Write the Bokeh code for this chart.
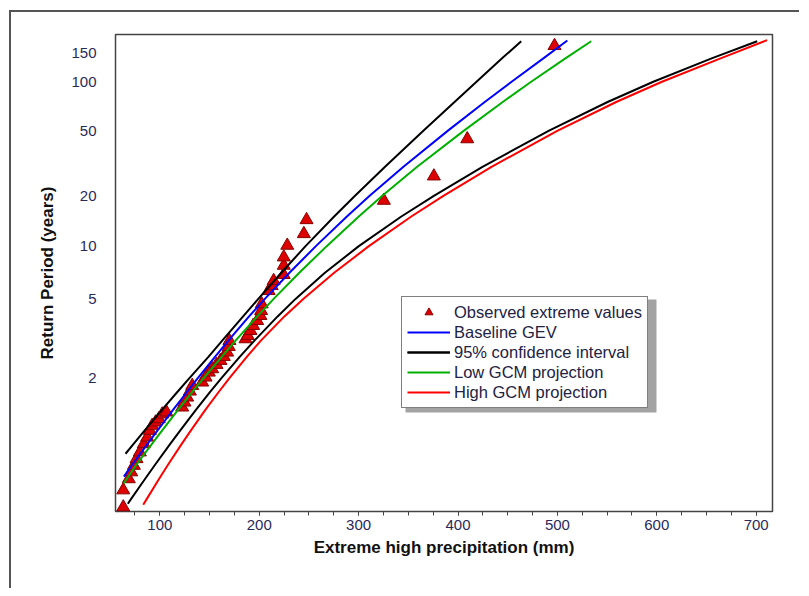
import math
from bokeh.plotting import figure
from bokeh.models import (Range1d, FixedTicker, SingleIntervalTicker, CustomJSTickFormatter,
                          Legend, LegendItem, BoxAnnotation)
from bokeh.embed import file_html
from bokeh.resources import INLINE

# ---------------- data (precipitation in mm, return period in years) ----------------
obs_precip = [63.2, 63.2, 68.8, 71.2, 73.9, 76.6, 79.9, 83.9, 87.3, 90.0,
              92.3, 95.7, 99.0, 102.4, 106.7, 122.5, 124.8, 127.5, 130.2, 132.6,
              142.6, 146.0, 149.3, 152.7, 157.0, 161.0, 164.4, 167.7, 169.4, 170.0,
              186.2, 188.5, 191.2, 193.9, 197.9, 201.2, 201.9, 202.5, 209.5, 212.5,
              214.5, 224.6, 224.7, 224.7, 228.2, 244.9, 247.6, 325.4, 375.7, 409.3,
              497.1]
obs_period = [1.0125, 1.033, 1.056, 1.075, 1.097, 1.124, 1.156, 1.203, 1.247, 1.298,
              1.341, 1.372, 1.404, 1.454, 1.476, 1.535, 1.599, 1.669, 1.761, 1.856,
              1.917, 2.013, 2.116, 2.190, 2.292, 2.392, 2.498, 2.620, 2.792, 2.990,
              3.05, 3.171, 3.363, 3.571, 3.794, 4.034, 4.292, 4.666, 5.53, 5.90,
              6.30, 6.82, 7.71, 8.62, 10.09, 11.82, 14.32, 18.72, 26.3, 44.4,
              166.9]

baseline_period = [1.062, 1.1, 1.2, 1.3, 1.5, 1.75, 2, 2.5, 3, 4, 5, 7, 10, 15, 20, 30,
                   50, 75, 100, 140, 180]
baseline_precip = [63.8, 72.2, 87.2, 97.7, 113.1, 127.3, 138.4, 155.7, 169.1, 189.8,
                   205.9, 230.4, 257.0, 288.2, 311.1, 345.1, 389.9, 426.9, 453.9,
                   486.2, 510.0]

ci_upper_period = [1.148, 1.2, 1.3, 1.5, 1.75, 2, 2.5, 3, 4, 5, 7, 10, 15, 20, 30, 50,
                   75, 100, 140, 178]
ci_upper_precip = [65.5, 73.2, 84.8, 101.9, 117.6, 130.0, 149.1, 163.0, 183.8, 199.3,
                   222.2, 246.6, 275.4, 296.4, 326.6, 365.4, 396.5, 418.6, 444.6, 463.6]

ci_lower_period = [1.0154, 1.02, 1.05, 1.1, 1.2, 1.3, 1.5, 1.75, 2, 2.5, 3, 4, 5, 7, 10,
                   15, 20, 30, 50, 75, 100, 140, 178]
ci_lower_precip = [67.8, 70.8, 83.3, 95.2, 110.1, 120.6, 136.1, 150.6, 162.2, 180.6,
                   195.4, 218.5, 236.8, 266.1, 300.2, 343.0, 375.7, 424.6, 491.6, 550.5,
                   596.5, 655.8, 701.0]

low_period = [1.046, 1.1, 1.2, 1.3, 1.5, 1.75, 2, 2.5, 3, 4, 5, 7, 10, 15, 20, 30, 50,
              75, 100, 140, 178]
low_precip = [63.8, 76.4, 91.7, 102.4, 118.1, 132.7, 144.3, 162.4, 176.4, 198.0, 214.8,
              240.3, 267.9, 300.2, 323.8, 358.9, 406.0, 445.0, 473.6, 508.4, 534.0]

high_period = [1.0145, 1.02, 1.05, 1.1, 1.2, 1.3, 1.5, 1.75, 2, 2.5, 3, 4, 5, 7, 10, 15,
               20, 30, 50, 75, 100, 140, 181]
high_precip = [83.3, 86.6, 97.6, 108.2, 121.7, 131.3, 145.6, 159.2, 170.2, 187.7, 201.9,
               225.3, 244.6, 275.4, 310.3, 353.0, 385.3, 433.7, 500.3, 559.1, 605.2,
               664.8, 711.0]

y_tick_periods = [2, 5, 10, 20, 50, 100, 150]
y_range_periods = [1.0094, 196.0]
x_range_mm = [55.4, 716.4]

legend_labels = ["Observed extreme values", "Baseline GEV", "95% confidence interval",
                 "Low GCM projection", "High GCM projection"]


# Gumbel (extreme-value) probability scale for the return-period axis
def gumbel(T):
    return -math.log(-math.log(1.0 - 1.0 / T))


def gum(seq):
    return [gumbel(t) for t in seq]


FONT = "Liberation Sans"

p = figure(width=790, height=578, output_backend="svg", toolbar_location=None,
           x_range=Range1d(*x_range_mm),
           y_range=Range1d(gumbel(y_range_periods[0]), gumbel(y_range_periods[1])),
           min_border_left=104, min_border_top=22, min_border_right=29, min_border_bottom=79)
p.styles = {"margin-left": "9px", "margin-top": "10px",
            "border-left": "2px solid #555555", "border-top": "2px solid #555555"}
p.grid.visible = False
p.outline_line_color = "#444444"
p.outline_line_width = 1.5
p.background_fill_color = "white"
p.border_fill_color = "white"

# x axis
xa = p.xaxis[0]
xa.ticker = SingleIntervalTicker(interval=100, num_minor_ticks=4)
xa.axis_line_color = None
xa.major_tick_line_color = "#444444"
xa.minor_tick_line_color = "#444444"
xa.major_tick_out = 4
xa.major_tick_in = 0
xa.minor_tick_out = 4
xa.minor_tick_in = 0
xa.major_label_standoff = 4
xa.major_label_text_font = FONT
xa.major_label_text_font_size = "15px"
xa.major_label_text_color = "#2a2a5a"
xa.axis_label = "Extreme high precipitation (mm)"
xa.axis_label_text_font = FONT
xa.axis_label_text_font_size = "17px"
xa.axis_label_text_font_style = "bold"
xa.axis_label_text_color = "#111111"
xa.axis_label_standoff = 5

# y axis
ya = p.yaxis[0]
ya.ticker = FixedTicker(ticks=gum(y_tick_periods), minor_ticks=[])
ya.formatter = CustomJSTickFormatter(
    code="return Math.round(1/(1-Math.exp(-Math.exp(-tick)))).toString();")
ya.axis_line_color = None
ya.major_tick_out = 0
ya.major_tick_in = 0
ya.minor_tick_out = 0
ya.minor_tick_in = 0
ya.major_label_standoff = 19
ya.major_label_text_font = FONT
ya.major_label_text_font_size = "15px"
ya.major_label_text_color = "#2a2a5a"
ya.axis_label = "Return Period (years)"
ya.axis_label_text_font = FONT
ya.axis_label_text_font_size = "17px"
ya.axis_label_text_font_style = "bold"
ya.axis_label_text_color = "#111111"
ya.axis_label_standoff = 11

# glyphs
r_obs = p.scatter(obs_precip, gum(obs_period), marker="triangle", size=13,
                  fill_color="#DD0000", line_color="#8a0000", line_width=1)
r_up = p.line(ci_upper_precip, gum(ci_upper_period), line_color="black", line_width=2)
r_lo = p.line(ci_lower_precip, gum(ci_lower_period), line_color="black", line_width=2)
r_high = p.line(high_precip, gum(high_period), line_color="#FF0000", line_width=2)
r_low = p.line(low_precip, gum(low_period), line_color="#00B000", line_width=2)
r_base = p.line(baseline_precip, gum(baseline_period), line_color="#0000FF", line_width=2)

# legend shadow (screen units: x from frame left, y up from frame bottom)
shadow = BoxAnnotation(left=290, right=541, bottom=99, top=212,
                       left_units="screen", right_units="screen",
                       top_units="screen", bottom_units="screen",
                       fill_color="#8c8c8c", fill_alpha=0.8, line_color=None)
p.add_layout(shadow)

legend = Legend(items=[
    LegendItem(label=legend_labels[0], renderers=[r_obs]),
    LegendItem(label=legend_labels[1], renderers=[r_base]),
    LegendItem(label=legend_labels[2], renderers=[r_up, r_lo]),
    LegendItem(label=legend_labels[3], renderers=[r_low]),
    LegendItem(label=legend_labels[4], renderers=[r_high]),
], location=(286, 103))
legend.border_line_color = "black"
legend.border_line_width = 1.5
legend.background_fill_color = "white"
legend.background_fill_alpha = 1.0
legend.padding = 5
legend.margin = 0
legend.spacing = 0
legend.glyph_width = 43
legend.glyph_height = 20
legend.label_height = 20
legend.label_standoff = 4
legend.label_text_font = FONT
legend.label_text_font_size = "16.5px"
legend.label_text_color = "#222244"
p.add_layout(legend)

open("out.html", "w").write(file_html(p, INLINE))
